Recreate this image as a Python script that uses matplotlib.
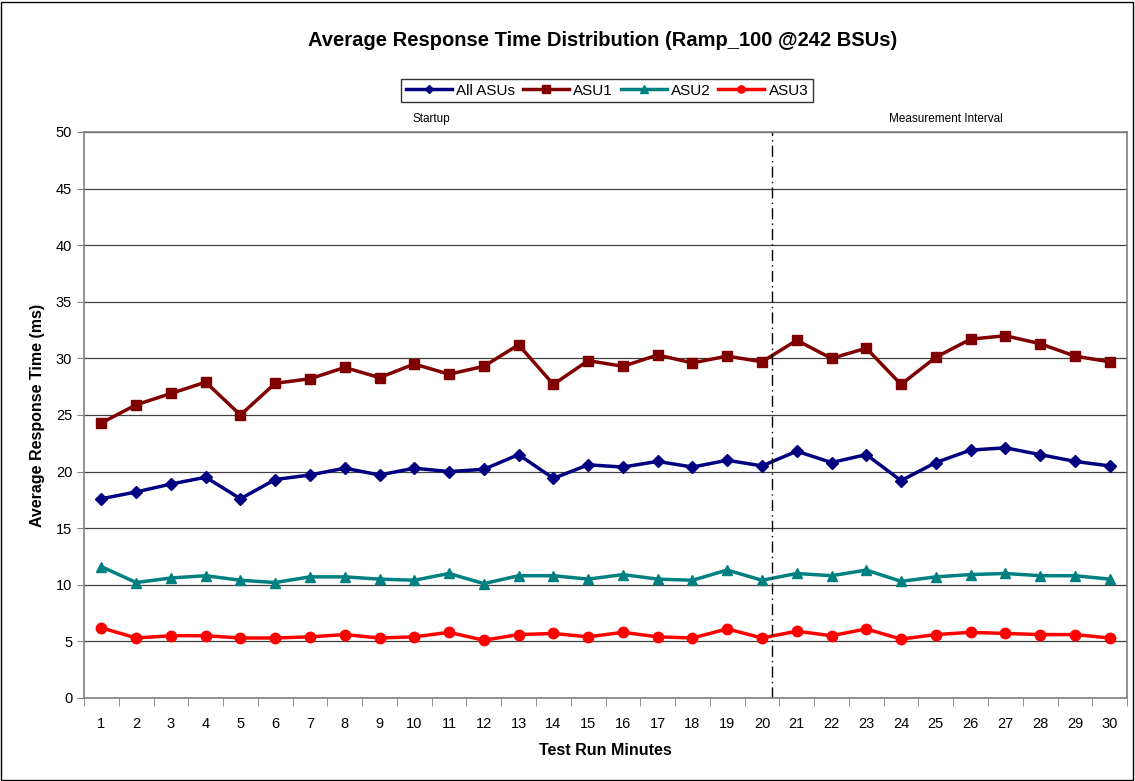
import matplotlib
matplotlib.use('Agg')
import matplotlib.pyplot as plt
import numpy as np
from matplotlib.patches import Rectangle

plt.rcParams['font.family'] = ['Liberation Sans', 'DejaVu Sans']

minutes = list(range(1, 31))
all_asus = [17.6, 18.2, 18.9, 19.5, 17.6, 19.3, 19.7, 20.3, 19.7, 20.3,
            20.0, 20.2, 21.5, 19.4, 20.6, 20.4, 20.9, 20.4, 21.0, 20.5,
            21.8, 20.8, 21.5, 19.2, 20.8, 21.9, 22.1, 21.5, 20.9, 20.5]
asu1 = [24.3, 25.9, 26.9, 27.9, 25.0, 27.8, 28.2, 29.2, 28.3, 29.5,
        28.6, 29.3, 31.2, 27.7, 29.8, 29.3, 30.3, 29.6, 30.2, 29.7,
        31.6, 30.0, 30.9, 27.7, 30.1, 31.7, 32.0, 31.3, 30.2, 29.7]
asu2 = [11.6, 10.2, 10.6, 10.8, 10.4, 10.2, 10.7, 10.7, 10.5, 10.4,
        11.0, 10.1, 10.8, 10.8, 10.5, 10.9, 10.5, 10.4, 11.3, 10.4,
        11.0, 10.8, 11.3, 10.3, 10.7, 10.9, 11.0, 10.8, 10.8, 10.5]
asu3 = [6.2, 5.3, 5.5, 5.5, 5.3, 5.3, 5.4, 5.6, 5.3, 5.4,
        5.8, 5.1, 5.6, 5.7, 5.4, 5.8, 5.4, 5.3, 6.1, 5.3,
        5.9, 5.5, 6.1, 5.2, 5.6, 5.8, 5.7, 5.6, 5.6, 5.3]
startup_end = 20

fig = plt.figure(figsize=(11.35, 7.81), dpi=100)
ax = fig.add_axes([0.074, 0.1063, 0.919, 0.7247])

ax.plot(minutes, all_asus, color='#000080', marker='D', markersize=6.5, linewidth=2.5, label='All ASUs')
ax.plot(minutes, asu1, color='#800000', marker='s', markersize=7.5, linewidth=2.5, label='ASU1')
ax.plot(minutes, asu2, color='#008080', marker='^', markersize=7.5, linewidth=2.5, label='ASU2')
ax.plot(minutes, asu3, color='#FF0000', marker='o', markersize=7.5, linewidth=2.5, label='ASU3')

ax.set_xlim(0.5, 30.5)
ax.set_ylim(0, 50)
ax.set_yticks(np.arange(0, 51, 5))
ax.set_xticks(minutes)
ax.set_xticks(np.arange(0.5, 31, 1), minor=True)
ax.tick_params(axis='x', which='major', length=0, labelsize=10.5, pad=14)
ax.tick_params(axis='x', which='minor', length=6, direction='out', color='#808080')
ax.tick_params(axis='y', length=5, direction='out', labelsize=10.5, color='#808080')
ax.yaxis.grid(True, color='#404040', linewidth=0.9)
ax.set_axisbelow(True)
for s in ax.spines.values():
    s.set_color('#808080')
    s.set_linewidth(1.2)

ax.axvline(startup_end + 0.28, color='black', linestyle=(0, (8, 3, 1, 3)), linewidth=1)
ax.text(0.5 + startup_end / 2, 50.6, 'Startup', ha='center', va='bottom', fontsize=8.5)
ax.text(startup_end + 5.3, 50.6, 'Measurement Interval', ha='center', va='bottom', fontsize=8.5)

ax.set_xlabel('Test Run Minutes', fontsize=11.5, fontweight='bold', labelpad=8)
ax.set_ylabel('Average Response Time (ms)', fontsize=11.5, fontweight='bold', labelpad=8)

fig.text(0.531, 0.948, 'Average Response Time Distribution (Ramp_100 @242 BSUs)',
         ha='center', va='center', fontsize=14.5, fontweight='bold')

leg = fig.legend(loc='center', bbox_to_anchor=(0.535, 0.884), ncol=4, frameon=True,
                 fancybox=False, edgecolor='black', fontsize=11, handlelength=3,
                 handletextpad=0.3, columnspacing=0.5, borderpad=0.3, markerscale=0.7)
leg.get_frame().set_linewidth(1)

fig.patches.append(Rectangle((0.001, 0.001), 0.997, 0.997, transform=fig.transFigure,
                             fill=False, edgecolor='black', linewidth=1))

fig.savefig('out.png', dpi=100)
